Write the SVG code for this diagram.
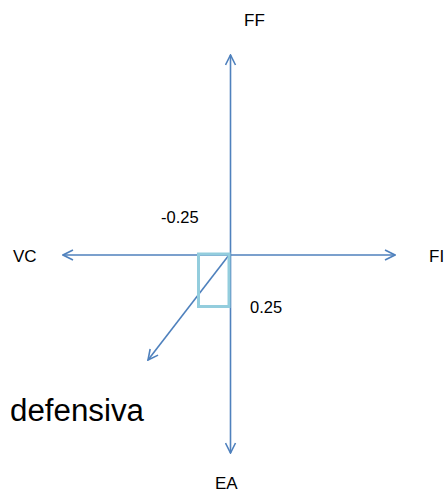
<svg xmlns="http://www.w3.org/2000/svg" width="446" height="493" viewBox="0 0 446 493">
<style>
.ax{stroke:#4F81BD;stroke-width:1.6;fill:none;marker-end:url(#arr)}
.lb{font-family:"Liberation Sans",Arial,sans-serif;font-size:17px;fill:#000}
.num{font-family:"Liberation Sans",Arial,sans-serif;font-size:16.5px;fill:#000}
</style>
<defs>
<marker id="arr" viewBox="0 0 12 12" refX="11" refY="6" markerWidth="12" markerHeight="12" markerUnits="userSpaceOnUse" orient="auto">
<path d="M1,1 L11,6 L1,11" fill="none" stroke="#4F81BD" stroke-width="1.6"/>
</marker>
</defs>
<rect width="446" height="493" fill="#fff"/>
<g id="connectors">
<line class="ax" x1="230.5" y1="255" x2="230.5" y2="55"/>
<line class="ax" x1="230.5" y1="255" x2="230.5" y2="453"/>
<line class="ax" x1="230.5" y1="255" x2="63" y2="255"/>
<line class="ax" x1="230.5" y1="255" x2="395" y2="255"/>
<line class="ax" x1="229" y1="255" x2="148" y2="360"/>
</g>
<g id="box">
<rect x="198.5" y="254" width="30.5" height="52.5" fill="none" stroke="#93CDDD" stroke-width="3"/>
</g>
<g id="FF"><text class="lb" x="244" y="26">FF</text></g>
<g id="VC"><text class="lb" x="13" y="262">VC</text></g>
<g id="FI"><text class="lb" x="429" y="262">FI</text></g>
<g id="EA"><text class="lb" x="215" y="489">EA</text></g>
<g id="m025"><text class="num" x="161" y="223">-0.25</text></g>
<g id="p025"><text class="num" x="250" y="313">0.25</text></g>
<g id="defensiva"><text x="10" y="421" font-family="Liberation Sans,Arial,sans-serif" font-size="31" textLength="134" lengthAdjust="spacingAndGlyphs" fill="#000">defensiva</text></g>
</svg>
